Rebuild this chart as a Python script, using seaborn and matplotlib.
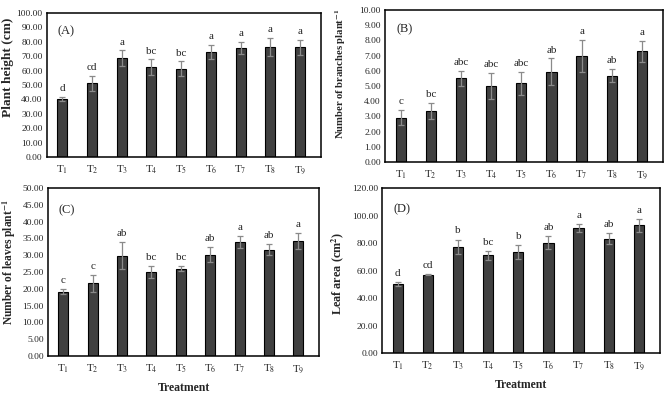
import matplotlib
matplotlib.use('Agg')
import matplotlib.pyplot as plt
import seaborn as sns
import pandas as pd
import numpy as np

treatments = ['T1', 'T2', 'T3', 'T4', 'T5', 'T6', 'T7', 'T8', 'T9']
tick_labels = [r'T$_{%d}$' % i for i in range(1, 10)]

plant_height = [40.4, 51.2, 68.7, 62.4, 61.4, 72.9, 75.7, 76.4, 76.2]
plant_height_err = [1.6, 5.3, 5.3, 5.4, 5.2, 4.9, 4.2, 6.5, 5.3]
plant_height_let = ['d', 'cd', 'a', 'bc', 'bc', 'a', 'a', 'a', 'a']

branches = [2.92, 3.36, 5.51, 5.00, 5.18, 5.95, 6.99, 5.69, 7.28]
branches_err = [0.50, 0.51, 0.49, 0.86, 0.75, 0.86, 1.04, 0.44, 0.68]
branches_let = ['c', 'bc', 'abc', 'abc', 'abc', 'ab', 'a', 'ab', 'a']

leaves = [19.2, 21.6, 29.9, 25.0, 26.0, 30.1, 33.9, 31.7, 34.3]
leaves_err = [0.6, 2.6, 4.1, 1.8, 0.7, 2.2, 1.8, 1.5, 2.4]
leaves_let = ['c', 'c', 'ab', 'bc', 'bc', 'ab', 'a', 'ab', 'a']

leaf_area = [50.1, 56.9, 77.1, 71.0, 73.5, 80.3, 90.8, 83.2, 92.9]
leaf_area_err = [1.5, 0.5, 5.4, 3.0, 4.8, 4.9, 3.1, 4.1, 4.7]
leaf_area_let = ['d', 'cd', 'b', 'bc', 'b', 'ab', 'a', 'ab', 'a']

sns.set_style('white')
plt.rcParams['font.family'] = ['Liberation Serif', 'DejaVu Serif']
plt.rcParams['mathtext.fontset'] = 'stix'

bar_color = '#404040'
err_color = '#8a8a8a'

def draw_panel(ax, values, errors, letters, tag, ylabel, ylabel_size, ylabel_pos,
               ymax, ystep, xlabel=None):
    df = pd.DataFrame({'Treatment': treatments, 'Value': values})
    sns.barplot(data=df, x='Treatment', y='Value', color=bar_color, width=0.34,
                edgecolor='black', linewidth=0.8, saturation=1, ax=ax)
    ax.errorbar(np.arange(len(values)), values, yerr=errors, fmt='none',
                ecolor=err_color, elinewidth=0.9, capsize=2.5, capthick=0.9)
    off = ymax * 0.025
    for i, (v, e, l) in enumerate(zip(values, errors, letters)):
        ax.text(i, v + e + off, l, ha='center', va='bottom', fontsize=8)
    ax.text(0.04, 0.87, tag, transform=ax.transAxes, fontsize=9, ha='left', va='center')
    ax.set_ylim(0, ymax)
    ax.set_xlim(-0.52, 8.7)
    ax.set_yticks(np.arange(0, ymax + ystep / 2, ystep))
    ax.yaxis.set_major_formatter(matplotlib.ticker.FormatStrFormatter('%.2f'))
    ax.set_xticks(range(9))
    ax.set_xticklabels(tick_labels, fontsize=8)
    ax.tick_params(axis='y', labelsize=6.8, length=0, pad=3)
    ax.tick_params(axis='x', length=0, pad=5)
    ax.set_ylabel(ylabel, fontsize=ylabel_size, fontweight='bold')
    ax.yaxis.set_label_coords(*ylabel_pos)
    if xlabel:
        ax.set_xlabel(xlabel, fontsize=8.5, fontweight='bold', labelpad=5)
    else:
        ax.set_xlabel('')
    for s in ax.spines.values():
        s.set_visible(True)
        s.set_color('black')
        s.set_linewidth(1.1)

fig = plt.figure(figsize=(6.69, 3.94), dpi=100)
ax_a = fig.add_axes([0.070, 0.6015, 0.4096, 0.3655])
ax_b = fig.add_axes([0.5755, 0.5888, 0.4155, 0.3858])
ax_c = fig.add_axes([0.0717, 0.0964, 0.405, 0.4264])
ax_d = fig.add_axes([0.571, 0.104, 0.4155, 0.4188])

draw_panel(ax_a, plant_height, plant_height_err, plant_height_let, '(A)',
           'Plant height (cm)', 9.6, (-0.12, 0.625), 100, 10)
draw_panel(ax_b, branches, branches_err, branches_let, '(B)',
           r'Number of branches plant$^{\mathbf{-1}}$', 7.7, (-0.133, 0.582), 10, 1)
draw_panel(ax_c, leaves, leaves_err, leaves_let, '(C)',
           r'Number of leaves plant$^{\mathbf{-1}}$', 8.3, (-0.112, 0.56), 50, 5,
           xlabel='Treatment')
draw_panel(ax_d, leaf_area, leaf_area_err, leaf_area_let, '(D)',
           r'Leaf area (cm$^{\mathbf{2}}$)', 8.8, (-0.13, 0.485), 120, 20,
           xlabel='Treatment')

fig.savefig('out.png', dpi=100)
